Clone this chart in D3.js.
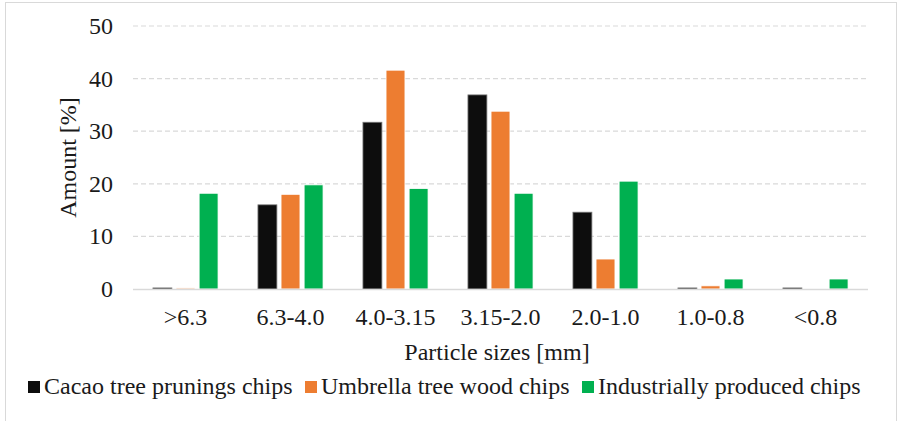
<!DOCTYPE html>
<html>
<head>
<meta charset="utf-8">
<script src="https://cdn.jsdelivr.net/npm/d3@7"></script>
<style>
  body { margin: 0; background: #fff; }
</style>
</head>
<body>
<div id="chart"></div>
<script>
// particle size distribution data
var categories = ['>6.3', '6.3-4.0', '4.0-3.15', '3.15-2.0', '2.0-1.0', '1.0-0.8', '<0.8'];
var seriesNames = ['Cacao tree prunings chips', 'Umbrella tree wood chips', 'Industrially produced chips'];
var cacao      = [0.2, 16.0, 31.7, 36.9, 14.6, 0.2, 0.2];
var umbrella   = [0.2, 18.0, 41.6, 33.8, 5.7, 0.6, 0.0];
var industrial = [18.2, 19.8, 19.1, 18.2, 20.5, 1.9, 1.9];
var yTicks = [0, 10, 20, 30, 40, 50];
var colors = ['#0d0d0d', '#ed7d31', '#00b050'];

var FONT = "'Liberation Serif', 'Times New Roman', Times, serif";
var W = 901, H = 421;
var margin = {left: 133, right: 33, top: 26, bottom: 132};

var svg = d3.select('#chart').append('svg').attr('width', W).attr('height', H)
    .style('font-family', FONT);

// chart frame
svg.append('rect').attr('x', 5.5).attr('y', 2.5).attr('width', 891).attr('height', 430)
    .attr('fill', 'none').attr('stroke', '#d9d9d9').attr('stroke-width', 1);

var x0 = d3.scaleBand().domain(categories).range([margin.left, W - margin.right]);
var x1 = d3.scaleBand().domain([0, 1, 2]).range([x0.bandwidth() * 0.19, x0.bandwidth() * 0.81]).paddingInner(0.18);
var y  = d3.scaleLinear().domain([0, 50]).range([H - margin.bottom, margin.top]);

function label(sel) {
    return sel.attr('font-family', FONT).attr('font-size', '24px').attr('fill', '#1a1a1a');
}

// gridlines
svg.append('g').selectAll('line').data(yTicks.filter(function(d){ return d > 0; })).join('line')
    .attr('x1', margin.left).attr('x2', W - margin.right)
    .attr('y1', function(d){ return y(d); }).attr('y2', function(d){ return y(d); })
    .attr('stroke', '#d9d9d9').attr('stroke-width', 1.2).attr('stroke-dasharray', '5,3');

// y tick labels
svg.append('g').selectAll('text').data(yTicks).join('text')
    .attr('x', 113).attr('y', function(d){ return y(d) + 8; })
    .attr('text-anchor', 'end').call(label)
    .text(function(d){ return d; });

// bars
var rows = categories.map(function(c, i){ return [cacao[i], umbrella[i], industrial[i]]; });
var grp = svg.append('g').selectAll('g').data(rows).join('g')
    .attr('transform', function(d, i){ return 'translate(' + x0(categories[i]) + ',0)'; });
grp.selectAll('rect').data(function(d){ return d; }).join('rect')
    .attr('x', function(d, j){ return x1(j); })
    .attr('width', x1.bandwidth())
    .attr('y', function(d){ return y(d); })
    .attr('height', function(d){ return y(0) - y(d); })
    .attr('fill', function(d, j){ return colors[j]; })
    .attr('stroke', function(d, j){ return j === 0 ? '#777' : '#fff'; })
    .attr('stroke-width', 0.8);

// baseline
svg.append('line').attr('x1', margin.left).attr('x2', W - margin.right)
    .attr('y1', y(0) + 0.5).attr('y2', y(0) + 0.5)
    .attr('stroke', '#d9d9d9').attr('stroke-width', 1.5);

// x tick labels
svg.append('g').selectAll('text').data(categories).join('text')
    .attr('x', function(d){ return x0(d) + x0.bandwidth() / 2; }).attr('y', 325)
    .attr('text-anchor', 'middle').call(label)
    .text(function(d){ return d; });

// axis titles
svg.append('text').attr('x', 497).attr('y', 360)
    .attr('text-anchor', 'middle').call(label).text('Particle sizes [mm]');
svg.append('text').attr('transform', 'translate(76,' + y(25) + ') rotate(-90)')
    .attr('text-anchor', 'middle').call(label).text('Amount [%]');

// legend
var legendX = [28, 305, 582];
var leg = svg.append('g').selectAll('g').data(seriesNames).join('g')
    .attr('transform', function(d, i){ return 'translate(' + legendX[i] + ',394)'; });
leg.append('rect').attr('x', 0).attr('y', -13).attr('width', 12).attr('height', 12)
    .attr('fill', function(d, i){ return colors[i]; });
leg.append('text').attr('x', 16).attr('y', 0).call(label)
    .text(function(d){ return d; });
</script>
</body>
</html>
